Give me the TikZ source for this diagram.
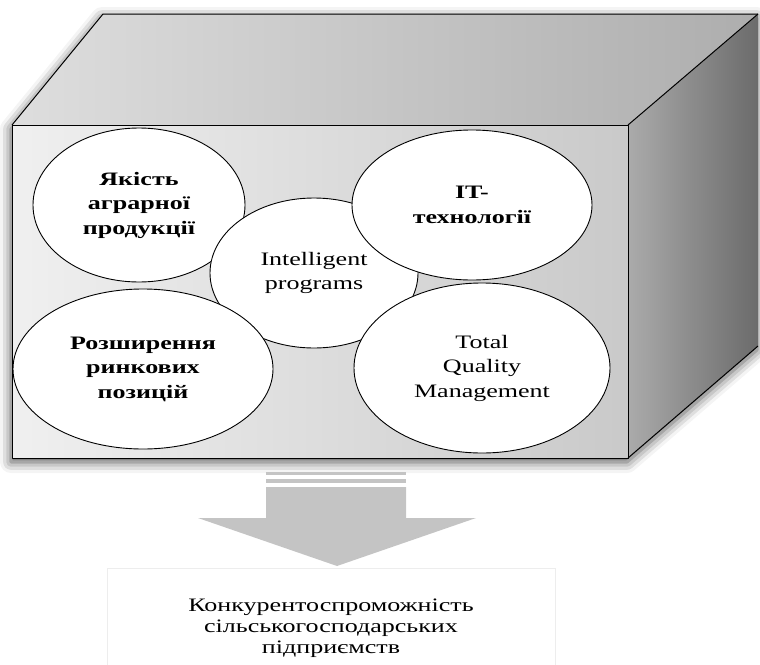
\documentclass[tikz,border=0pt]{standalone}
\usepackage{fontspec}
\setmainfont{Liberation Serif}[FakeStretch=1.37]
\usetikzlibrary{shapes.geometric,shadows.blur}

\begin{document}
\begin{tikzpicture}[x=1pt,y=-1pt,
  oval/.style={draw,ellipse,fill=white,line width=0.9pt,inner sep=0pt,align=center,
    font=\fontsize{19}{24.5}\selectfont},
  edge/.style={line width=1pt,line join=round}]
\useasboundingbox (0,0) rectangle (760,664);

% the box
\path[fill=white,blur shadow={shadow xshift=-1pt,shadow yshift=-4pt,shadow blur radius=11pt,shadow opacity=70}]
  (12,125) -- (103,14) -- (758,14) -- (758,346) -- (628,458) -- (12,458) -- cycle;
\shade[left color=black!13,right color=black!32] (12,125) -- (103,14) -- (758,14) -- (628,125) -- cycle;
\shade[left color=black!33,right color=black!58] (628,125) -- (758,14) -- (758,346) -- (628,458) -- cycle;
\shade[left color=black!6,right color=black!21] (12,125) rectangle (628,458);
\draw[edge] (12,125) -- (103,14) -- (758,14);
\draw[edge] (628,125) -- (758,14);
\draw[edge] (628,458) -- (758,346);
\draw[edge] (12,125) rectangle (628,458);

% five ovals
\node[oval,minimum width=212,minimum height=154] (a) at (139,205) {\bfseries Якість\\\bfseries аграрної\\\bfseries продукції};
\node[oval,minimum width=208,minimum height=150] (b) at (314,273) {Intelligent\\programs};
\node[oval,minimum width=260,minimum height=160] (c) at (143,369) {\bfseries Розширення\\\bfseries ринкових\\\bfseries позицій};
\node[oval,minimum width=240,minimum height=150] (d) at (472,205) {\bfseries IT-\\\bfseries технології};
\node[oval,minimum width=256,minimum height=170] (e) at (482,368) {Total\\Quality\\Management};

% arrow down
\fill[black!23] (266,472) rectangle (406,475);
\fill[black!23] (266,479) rectangle (406,483);
\fill[black!23] (266,487) -- (406,487) -- (406,518) -- (476,518) -- (337,566) -- (198,518) -- (266,518) -- cycle;

% result
\node[draw=black!7,minimum width=448,minimum height=120,align=center,
  font=\fontsize{19}{21}\selectfont] (f) at (331,628)
  {Конкурентоспроможність\\сільськогосподарських\\підприємств};
\end{tikzpicture}
\end{document}
